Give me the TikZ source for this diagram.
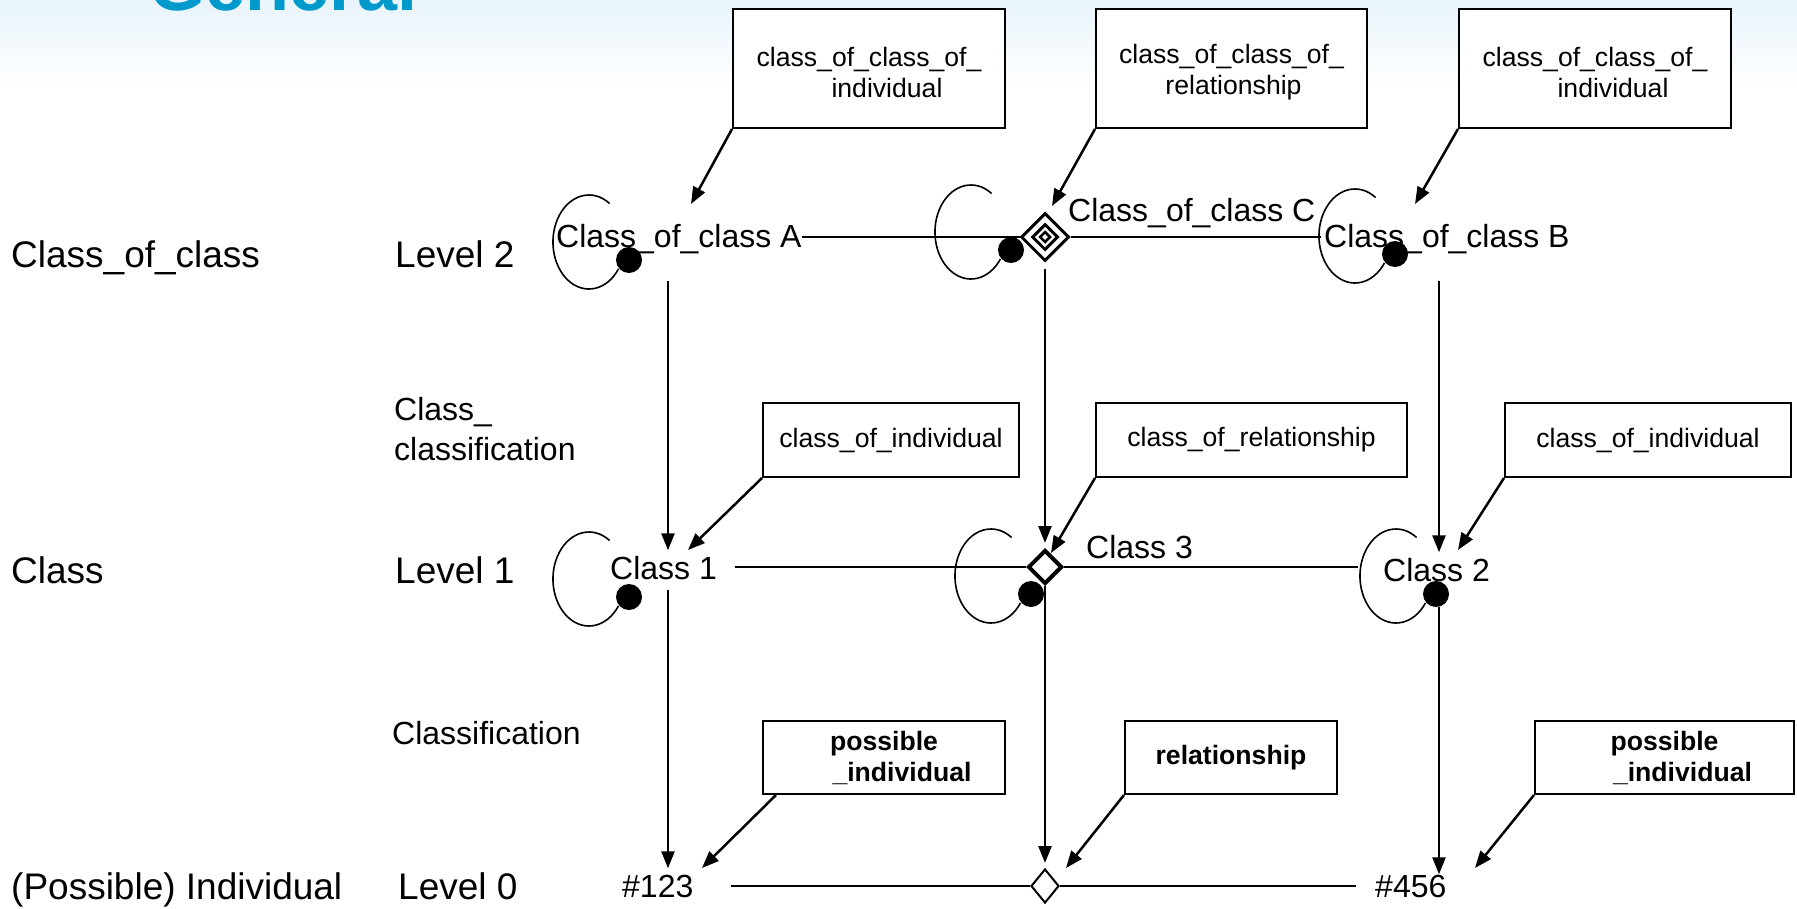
\documentclass[tikz,border=0pt]{standalone}
\usepackage{fontspec}
\setmainfont{Liberation Sans}
\usetikzlibrary{arrows.meta,shapes.geometric}
\newcommand\szBox{\fontsize{26.6}{31}\selectfont}
\newcommand\szLbl{\fontsize{32}{40}\selectfont}
\newcommand\szRow{\fontsize{37}{44}\selectfont}
\newcommand\szTitle{\fontsize{72}{80}\selectfont\bfseries}
\definecolor{titleblue}{RGB}{0,153,204}
\definecolor{skytop}{RGB}{232,244,251}
% self-referencing loop ending in a ball, given the ball node
\newcommand\selfloop[1]{\draw[loopline] (#1) ++(-19.4,-56.5) arc[start angle=-55,end angle=-325,x radius=36,y radius=47];}

\begin{document}
\begin{tikzpicture}[x=1pt,y=-1pt,
  rowlbl/.style={anchor=west,inner sep=0pt,font=\szRow,text height=26.5pt,text depth=0pt},
  lbl/.style={anchor=west,inner sep=0pt,font=\szLbl,text height=23pt,text depth=0pt},
  callbox/.style={draw,line width=2pt,fill=white,font=\szBox,align=center,inner sep=0pt},
  conn/.style={line width=2.5pt},
  arr/.style={line width=2.5pt,-{Triangle[length=17pt,width=13pt]}},
  loopline/.style={line width=1.6pt},
  ball/.style={circle,fill=black,inner sep=0pt,minimum size=26pt},
  rel/.style={diamond,draw,fill=white,inner sep=0pt},
]
\useasboundingbox (0,0) rectangle (1797,908);
\clip (0,0) rectangle (1797,908);

% page background with the pale band along the top
\fill[white] (0,0) rectangle (1797,908);
\shade[top color=skytop,bottom color=white] (0,0) rectangle (1797,90);
\node[anchor=base west,inner sep=0pt,font=\szTitle,text=titleblue] (title) at (149,10) {General};

% row captions
\node[rowlbl] (rowCoC) at (11,254) {Class\_of\_class};
\node[rowlbl] (lev2) at (395,254) {Level 2};
\node[rowlbl] (rowC) at (11,570) {Class};
\node[rowlbl] (lev1) at (395,570) {Level 1};
\node[rowlbl] (rowI) at (11,886) {(Possible) Individual};
\node[rowlbl] (lev0) at (398,886) {Level 0};
\node[lbl] (ccl) at (394,409) {Class\_};
\node[lbl] (ccl2) at (394,449) {classification};
\node[lbl] (cls) at (392,733) {Classification};

% callout boxes
\node[callbox,minimum width=272pt,minimum height=119pt] (b1) at (869,68.5) {\rule{0pt}{27pt}class\_of\_class\_of\_\\\hspace*{36pt}individual};
\node[callbox,minimum width=271pt,minimum height=119pt] (b2) at (1231.5,68.5) {\rule{0pt}{27pt}class\_of\_class\_of\_\\\hspace*{4pt}relationship};
\node[callbox,minimum width=272pt,minimum height=119pt] (b3) at (1595,68.5) {\rule{0pt}{27pt}class\_of\_class\_of\_\\\hspace*{36pt}individual};
\node[callbox,minimum width=256pt,minimum height=74pt] (m1) at (891,440) {class\_of\_individual};
\node[callbox,minimum width=311pt,minimum height=74pt] (m2) at (1251.5,440) {class\_of\_relationship};
\node[callbox,minimum width=286pt,minimum height=74pt] (m3) at (1648,440) {class\_of\_individual};
\node[callbox,font=\szBox\bfseries,minimum width=242pt,minimum height=73pt] (l1) at (884,757.5) {possible\\\hspace*{36pt}\_individual};
\node[callbox,font=\szBox\bfseries,minimum width=212pt,minimum height=73pt] (l2) at (1231,757.5) {relationship};
\node[callbox,font=\szBox\bfseries,minimum width=259pt,minimum height=73pt] (l3) at (1664.5,757.5) {possible\\\hspace*{36pt}\_individual};

% level 2 things
\node[lbl] (cA) at (556,236) {Class\_of\_class A};
\node[lbl] (cC) at (1068,210) {Class\_of\_class C};
\node[lbl] (cB) at (1324,236) {Class\_of\_class B};
\node[ball] (dA) at (629,260) {};
\node[ball] (dC) at (1011,250) {};
\node[ball] (dB) at (1395,254) {};
\selfloop{dA}
\selfloop{dC}
\selfloop{dB}
\node[rel,line width=3pt,minimum width=48pt,minimum height=48pt] (rC2) at (1045,237) {};
\node[diamond,draw,inner sep=0pt,line width=3pt,minimum width=26pt,minimum height=26pt] (rC2m) at (rC2) {};
\node[diamond,draw,inner sep=0pt,line width=2.5pt,minimum width=11pt,minimum height=11pt] (rC2i) at (rC2) {};
\draw[conn] (cA.east |- rC2) -- (rC2.west);
\draw[conn,shorten >=3pt] (rC2.east) -- (cB.west |- rC2);

% level 1 things
\node[lbl] (c1) at (610,568) {Class 1};
\node[lbl] (c3) at (1086,547) {Class 3};
\node[lbl] (c2) at (1383,570) {Class 2};
\node[ball] (d1) at (629,597) {};
\node[ball] (d3) at (1031,594) {};
\node[ball] (d2) at (1436,594) {};
\selfloop{d1}
\selfloop{d3}
\selfloop{d2}
\node[rel,line width=4pt,minimum width=34pt,minimum height=34pt] (r1) at (1045,567) {};
\draw[conn,shorten <=18pt] (c1.east |- r1) -- (r1.west);
\draw[conn,shorten >=25pt] (r1.east) -- (c2.west |- r1);

% level 0 things
\node[lbl] (i1) at (622,886) {\#123};
\node[lbl] (i2) at (1375,886) {\#456};
\node[rel,line width=2pt,minimum width=28pt,minimum height=34pt] (r0) at (1045,886) {};
\draw[conn,shorten <=37pt] (i1.east |- r0) -- (r0.west);
\draw[conn,shorten >=19pt] (r0.east) -- (i2.west |- r0);

% classification arrows between levels
\coordinate (colA) at (668,0);
\coordinate (colB) at (1439,0);
\draw[arr,shorten <=33pt,shorten >=6pt] (cA.south -| colA) -- (c1.north -| colA);
\draw[arr,shorten <=10pt,shorten >=6pt] (c1.south -| colA) -- (i1.north -| colA);
\draw[arr,shorten <=6pt,shorten >=5pt] (rC2.south) -- (r1.north);
\draw[arr,shorten <=0pt,shorten >=5pt] (r1.south) -- (r0.north);
\draw[arr,shorten <=33pt,shorten >=6pt] (cB.south -| colB) -- (c2.north -| colB);
\draw[arr] (d2.south -| colB) -- (i2.north -| colB);

% callout pointers
\coordinate (tb1) at (691,204);
\coordinate (tb2) at (1052,206);
\coordinate (tb3) at (1415,204);
\coordinate (tm1) at (688,550);
\coordinate (tm2) at (1051,553);
\coordinate (tm3) at (1458,550);
\coordinate (tl1) at (702,868);
\coordinate (tl2) at (1066,868);
\coordinate (tl3) at (1475,868);
\draw[arr] (b1.south west) -- (tb1);
\draw[arr] (b2.south west) -- (tb2);
\draw[arr] (b3.south west) -- (tb3);
\draw[arr] (m1.south west) -- (tm1);
\draw[arr] (m2.south west) -- (tm2);
\draw[arr] (m3.south west) -- (tm3);
\draw[arr] ([xshift=14pt]l1.south west) -- (tl1);
\draw[arr] (l2.south west) -- (tl2);
\draw[arr] (l3.south west) -- (tl3);
\end{tikzpicture}
\end{document}
